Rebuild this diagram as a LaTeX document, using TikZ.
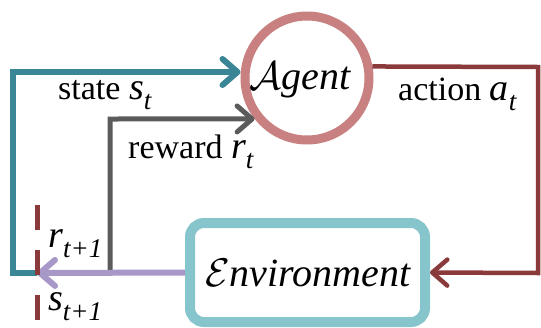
\documentclass[tikz,border=0pt]{standalone}
\usepackage{fix-cm}
\usepackage{fontspec}
\setmainfont{Liberation Serif}
\usetikzlibrary{arrows.meta}
\definecolor{agentring}{RGB}{201,128,128}
\definecolor{envring}{RGB}{134,197,203}
\definecolor{statecol}{RGB}{58,134,150}
\definecolor{rewardcol}{RGB}{91,91,91}
\definecolor{obscol}{RGB}{168,152,200}
\definecolor{actioncol}{RGB}{138,58,58}
% italic symbol with an italic subscript, set from the text font
\newcommand{\sym}[2]{{\fontsize{38}{40}\selectfont\textit{#1}}\raisebox{-0.3em}{\fontsize{27}{29}\selectfont\textit{#2}}}
\tikzset{
  barb/.style={-{Straight Barb[length=15pt,width=26pt,line cap=round,line join=round]}},
  flow/.style={line width=#1, line join=miter},
  lbl/.style={anchor=base west, inner sep=0pt, font=\fontsize{34}{38}\selectfont},
  actor/.style={anchor=base, inner sep=0pt, font=\fontsize{40}{44}\selectfont\itshape},
}
\begin{document}
\begin{tikzpicture}[x=1pt,y=-1pt]
\useasboundingbox (0,0) rectangle (541,327);

% the two actors
\node[circle, draw=agentring, line width=9pt, minimum size=124pt, inner sep=0pt] (agent) at (307,78) {};
\node[actor] (agenttxt) at (300,89) {$\mathcal{A}$gent};
\node[draw=envring, line width=10pt, rounded corners=14pt, minimum width=235pt, minimum height=99pt, inner sep=0pt] (env) at (307.5,272.5) {};
\node[actor] (envtxt) at (308,286) {$\mathcal{E}$nvironment};

% helper points for the loop
\coordinate (J) at (37,273);
\coordinate (sc) at (13,273);
\coordinate (st) at (13,72);
\coordinate (rb) at (110,273);
\coordinate (rt) at (110,119);
\coordinate (ar) at (538,67);
\coordinate (ab) at (538,273);
\coordinate (dtop) at (37,205);
\coordinate (dbot) at (37,322);

% state s_t back to the agent
\draw[flow=6pt, statecol, barb] (J) -- (sc) -- (st) -- (st -| agent.west);
% reward r_t back to the agent
\draw[flow=5pt, rewardcol, barb] (rb) -- (rt) -- (agent.218);
% action a_t to the environment
\draw[flow=4.5pt, actioncol, barb] (agent.10) -- (ar) -- (ab) -- (env.east);
% new observation out of the environment
\draw[flow=6pt, obscol, barb] (env.west) -- (J);
% time step boundary
\draw[line width=5pt, actioncol, dash pattern=on 25pt off 20pt] (dtop) -- (dbot);

% labels
\node[lbl] (slbl) at (58,99) {state \sym{s}{t}};
\node[lbl] (rlbl) at (128,158) {reward \sym{r}{t}};
\node[lbl] (albl) at (398,100) {action \sym{a}{t}};
\node[lbl] (r1) at (48,247) {\sym{r}{t+1}};
\node[lbl] (s1) at (48,310) {\sym{s}{t+1}};
\end{tikzpicture}
\end{document}
